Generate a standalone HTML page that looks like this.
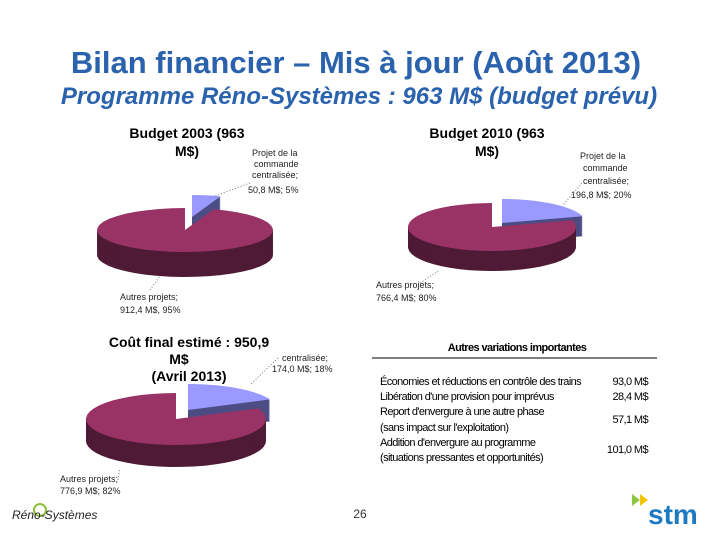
<!DOCTYPE html>
<html><head><meta charset="utf-8"><style>
body{margin:0;background:#fff;}
svg{display:block;font-family:"Liberation Sans",sans-serif;}
</style></head><body>
<svg width="720" height="540" viewBox="0 0 720 540">
<text x="356" y="73" text-anchor="middle" font-size="31" font-weight="bold" fill="#2a62ad">Bilan financier – Mis à jour (Août 2013)</text>
<text x="359" y="104" text-anchor="middle" font-size="24" font-weight="bold" font-style="italic" fill="#2a62ad">Programme Réno-Systèmes : 963 M$ (budget prévu)</text>
<g id="pies"></g>
<g font-size="14" font-weight="bold" fill="#000">
<text x="187" y="138" text-anchor="middle">Budget 2003 (963</text><text x="187" y="156" text-anchor="middle">M$)</text>
<text x="487" y="138" text-anchor="middle">Budget 2010 (963</text><text x="487" y="156" text-anchor="middle">M$)</text>
<text x="189" y="347" text-anchor="middle">Coût final estimé : 950,9</text><text x="179" y="364" text-anchor="middle">M$</text><text x="189" y="381" text-anchor="middle">(Avril 2013)</text>
</g>
<g font-size="9" fill="#222">
<text x="252" y="156">Projet de la</text><text x="254" y="167">commande</text><text x="252" y="178">centralisée;</text><text x="248" y="193">50,8 M$; 5%</text>
<text x="120" y="300">Autres projets;</text><text x="120" y="313">912,4 M$, 95%</text>
<text x="580" y="159">Projet de la</text><text x="583" y="171">commande</text><text x="583" y="184">centralisée;</text><text x="571" y="198">196,8 M$; 20%</text>
<text x="376" y="288">Autres projets;</text><text x="376" y="301">766,4 M$; 80%</text>
<text x="282" y="361">centralisée;</text><text x="272" y="372">174,0 M$; 18%</text>
<text x="60" y="482">Autres projets;</text><text x="60" y="494">776,9 M$; 82%</text>
</g>
<g stroke="#777" stroke-dasharray="1,2" fill="none">
<path d="M250,183 L210,198"/><path d="M150,290 L160,276"/>
<path d="M582,183 L563,205"/><path d="M420,283 L440,270"/>
<path d="M278,358 L250,385"/><path d="M118,480 L120,468"/>
</g>
<g font-size="11" fill="#000" letter-spacing="-0.6">
<text x="517" y="351" text-anchor="middle" font-weight="bold">Autres variations importantes</text>
<line x1="372" y1="358" x2="657" y2="358" stroke="#000" stroke-width="1"/>
<text x="380" y="385">Économies et réductions en contrôle des trains</text><text x="648" y="385" text-anchor="end">93,0 M$</text>
<text x="380" y="400">Libération d'une provision pour imprévus</text><text x="648" y="400" text-anchor="end">28,4 M$</text>
<text x="380" y="415">Report d'envergure à une autre phase</text><text x="380" y="431">(sans impact sur l'exploitation)</text><text x="648" y="423" text-anchor="end">57,1 M$</text>
<text x="380" y="446">Addition d'envergure au programme</text><text x="380" y="461">(situations pressantes et opportunités)</text><text x="648" y="453" text-anchor="end">101,0 M$</text>
</g>
<text x="360" y="518" text-anchor="middle" font-size="12" fill="#333">26</text>
<g>
<circle cx="40" cy="510" r="6" fill="none" stroke="#8bbf3a" stroke-width="2"/>
<text x="12" y="519" font-size="12" font-style="italic" fill="#222">Réno-Systèmes</text>
</g>
<g>
<path d="M632,494 l8,6 l-8,6 z" fill="#8cc63f"/><path d="M640,494 l8,6 l-8,6 z" fill="#f5c400"/>
<text x="648" y="524" font-size="28" font-weight="bold" fill="#1e7ac0">stm</text>
</g>
</svg>
<script>
// pie data (M$)
const pie1Values=[50.8,912.4];
const pie2Values=[196.8,766.4];
const pie3Values=[174.0,776.9];
const pies=[
 {v:pie1Values,cx:185,cy:230,rx:88,ry:22,d:25,ex:[[7,-13],[0,0]],name:'pie-budget-2003'},
 {v:pie2Values,cx:492,cy:227,rx:84,ry:24,d:20,ex:[[10,-4],[0,0]],name:'pie-budget-2010'},
 {v:pie3Values,cx:176,cy:419,rx:90,ry:26,d:22,ex:[[12,-9],[0,0]],name:'pie-final-cost'}];
const topC=['#9999ff','#993366'],sideC=['#4d4d85','#4e1a35'];
const NS='http://www.w3.org/2000/svg',g=document.getElementById('pies');
function slicePath(p,a0,a1,ox,oy){
 let cx=p.cx+ox,cy=p.cy+oy,s='M'+cx+','+cy;
 for(let i=0;i<=40;i++){let t=a0+(a1-a0)*i/40;s+=' L'+(cx+p.rx*Math.sin(t)).toFixed(1)+','+(cy-p.ry*Math.cos(t)).toFixed(1);}
 return s+'Z';}
pies.forEach(p=>{
 const grp=document.createElementNS(NS,'g');
 
 
 g.appendChild(grp);
 const tot=p.v.reduce((a,b)=>a+b,0);let a=0;
 p.v.forEach((val,i)=>{
  const a1=a+val/tot*2*Math.PI,[ox,oy]=p.ex[i];
  for(let k=p.d;k>0;k--){const s=document.createElementNS(NS,'path');s.setAttribute('d',slicePath(p,a,a1,ox,oy+k));s.setAttribute('fill',sideC[i]);grp.appendChild(s);}
  const s=document.createElementNS(NS,'path');
  
  
  s.setAttribute('d',slicePath(p,a,a1,ox,oy));s.setAttribute('fill',topC[i]);grp.appendChild(s);
  a=a1;});
});
</script>
</body></html>
